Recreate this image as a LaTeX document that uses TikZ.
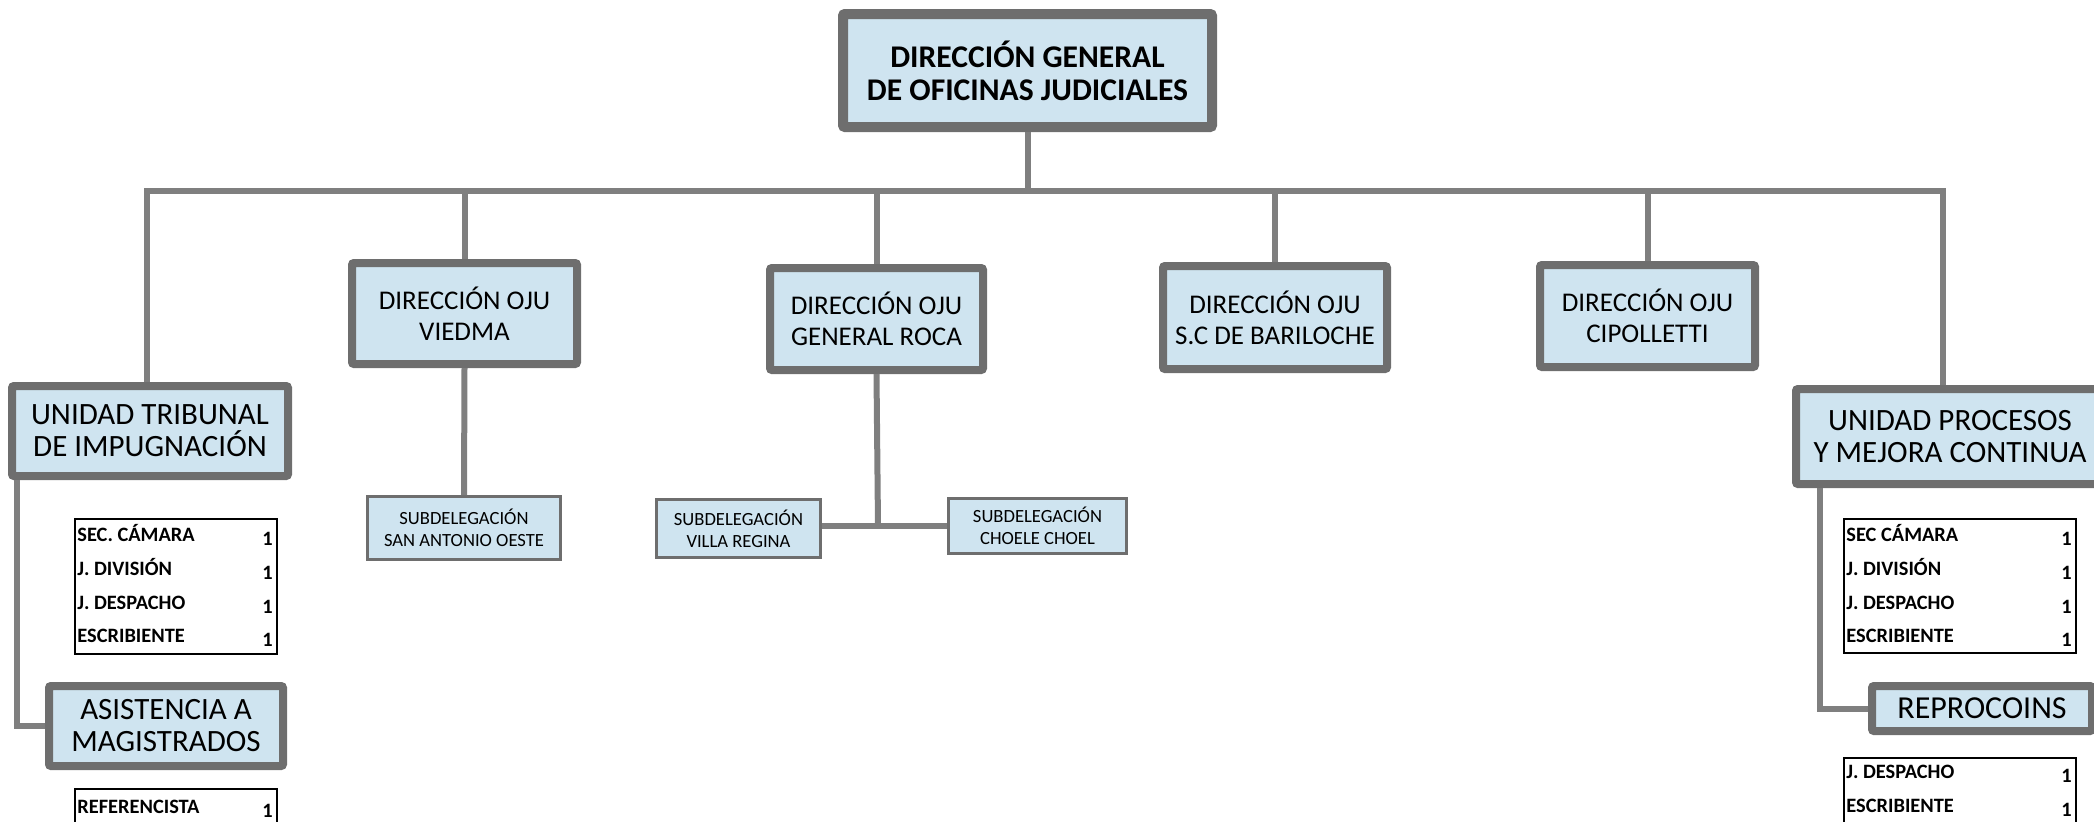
\documentclass[tikz,border=0pt]{standalone}
\usepackage{fontspec}
\setmainfont{Carlito}
\definecolor{boxfill}{HTML}{CFE4F0}
\definecolor{boxline}{HTML}{6E6E6E}
\definecolor{connline}{HTML}{7F7F7F}
\begin{document}
\begin{tikzpicture}[x=0.5pt,y=-0.5pt,
  conn/.style={draw=connline,line width=3pt,line join=miter},
  bigbox/.style={draw=boxline,fill=boxfill,line width=5pt,rounded corners=1pt,align=center,inner sep=0pt,text=black},
  midbox/.style={draw=boxline,fill=boxfill,line width=4pt,rounded corners=1pt,align=center,inner sep=0pt,text=black},
  ojubox/.style={midbox,font=\fontsize{13.5}{15.5}\selectfont},
  unitbox/.style={midbox,font=\fontsize{15.5}{16}\selectfont},
  smallbox/.style={draw=boxline,fill=boxfill,line width=1.5pt,align=center,inner sep=0pt,text=black,font=\fontsize{9.3}{10.8}\selectfont},
  tbl/.style={draw=black,fill=white,line width=1pt,inner sep=0pt},
  rowlab/.style={anchor=base west,inner sep=0pt,font=\fontsize{10.2}{12}\selectfont\bfseries},
  rownum/.style={anchor=base east,inner sep=0pt,font=\fontsize{10.2}{12}\selectfont\bfseries}
]
\useasboundingbox (0,0) rectangle (2094,821);

% coordinates for connectors
\coordinate (busL) at (147,191);
\coordinate (busR) at (1943,191);
\coordinate (spurL) at (17,0);
\coordinate (spurR) at (1820,0);
\coordinate (rj) at (878,526);

% boxes
\node[bigbox,minimum width=184.5pt,minimum height=56.5pt,font=\fontsize{15.8}{16.5}\selectfont\bfseries] (top) at (1027.5,70.5) {DIRECCIÓN GENERAL\\DE OFICINAS JUDICIALES};

\node[ojubox,minimum width=112.5pt,minimum height=50.5pt] (viedma) at (464.5,313.5) {DIRECCIÓN OJU\\VIEDMA};
\node[ojubox,minimum width=106.5pt,minimum height=51pt] (roca) at (876.5,319) {DIRECCIÓN OJU\\GENERAL ROCA};
\node[ojubox,minimum width=112pt,minimum height=51.5pt] (bariloche) at (1275,317.5) {DIRECCIÓN OJU\\S.C DE BARILOCHE};
\node[ojubox,minimum width=107.5pt,minimum height=51pt] (cipolletti) at (1647.5,316) {DIRECCIÓN OJU\\CIPOLLETTI};

\node[unitbox,minimum width=138pt,minimum height=45pt] (uti) at (150,431) {UNIDAD TRIBUNAL\\DE IMPUGNACIÓN};
\node[unitbox,minimum width=117pt,minimum height=40pt] (asist) at (166,726) {ASISTENCIA A\\MAGISTRADOS};
\node[unitbox,minimum width=154pt,minimum height=47.5pt] (upmc) at (1950,436.5) {UNIDAD PROCESOS\\Y MEJORA CONTINUA};
\node[unitbox,minimum width=110pt,minimum height=22.5pt,font=\fontsize{16}{16}\selectfont] (repro) at (1982,708.5) {REPROCOINS};

\node[smallbox,minimum width=96.5pt,minimum height=31.5pt] (sao) at (464,528) {SUBDELEGACIÓN\\SAN ANTONIO OESTE};
\node[smallbox,minimum width=82pt,minimum height=29pt] (vr) at (738.5,528.5) {SUBDELEGACIÓN\\VILLA REGINA};
\node[smallbox,minimum width=89pt,minimum height=27.5pt] (cc) at (1037.5,526) {SUBDELEGACIÓN\\CHOELE CHOEL};

% connectors
\draw[conn] (top.south) -- (top.south |- busL);
\draw[conn] (uti.north -| busL) -- (busL) -- (busR) -- (upmc.north -| busR);
\draw[conn] (viedma.north) -- (viedma.north |- busL);
\draw[conn] (roca.north) -- (roca.north |- busL);
\draw[conn] (bariloche.north) -- (bariloche.north |- busL);
\draw[conn] (cipolletti.north) -- (cipolletti.north |- busL);
\draw[conn] (viedma.south) -- (sao.north);
\draw[conn] (roca.south) -- (rj);
\draw[conn] (vr.east |- rj) -- (cc.west |- rj);
\draw[conn] (uti.south -| spurL) |- (asist.west);
\draw[conn] (upmc.south -| spurR) |- (repro.west);

% tables
\node[tbl,minimum width=101pt,minimum height=67.5pt] (t1) at (176,586.5) {};
\node[rowlab] (t1a) at (77,541) {SEC. CÁMARA};
\node[rowlab] (t1b) at (77,575) {J. DIVISIÓN};
\node[rowlab] (t1c) at (77,609) {J. DESPACHO};
\node[rowlab] (t1d) at (77,642) {ESCRIBIENTE};
\node[rownum] (t1an) at (273,545) {1};
\node[rownum] (t1bn) at (273,579) {1};
\node[rownum] (t1cn) at (273,613) {1};
\node[rownum] (t1dn) at (273,646) {1};

\node[tbl,minimum width=101pt,minimum height=45pt] (t2) at (176,834) {};
\node[rowlab] (t2a) at (77,813) {REFERENCISTA};
\node[rownum] (t2an) at (273,817) {1};

\node[tbl,minimum width=116pt,minimum height=67pt] (t3) at (1960,586) {};
\node[rowlab] (t3a) at (1846,541) {SEC CÁMARA};
\node[rowlab] (t3b) at (1846,575) {J. DIVISIÓN};
\node[rowlab] (t3c) at (1846,609) {J. DESPACHO};
\node[rowlab] (t3d) at (1846,642) {ESCRIBIENTE};
\node[rownum] (t3an) at (2072,545) {1};
\node[rownum] (t3bn) at (2072,579) {1};
\node[rownum] (t3cn) at (2072,613) {1};
\node[rownum] (t3dn) at (2072,646) {1};

\node[tbl,minimum width=116pt,minimum height=55pt] (t4) at (1960,813) {};
\node[rowlab] (t4a) at (1846,778) {J. DESPACHO};
\node[rowlab] (t4b) at (1846,812) {ESCRIBIENTE};
\node[rownum] (t4an) at (2072,782) {1};
\node[rownum] (t4bn) at (2072,816) {1};
\end{tikzpicture}
\end{document}
